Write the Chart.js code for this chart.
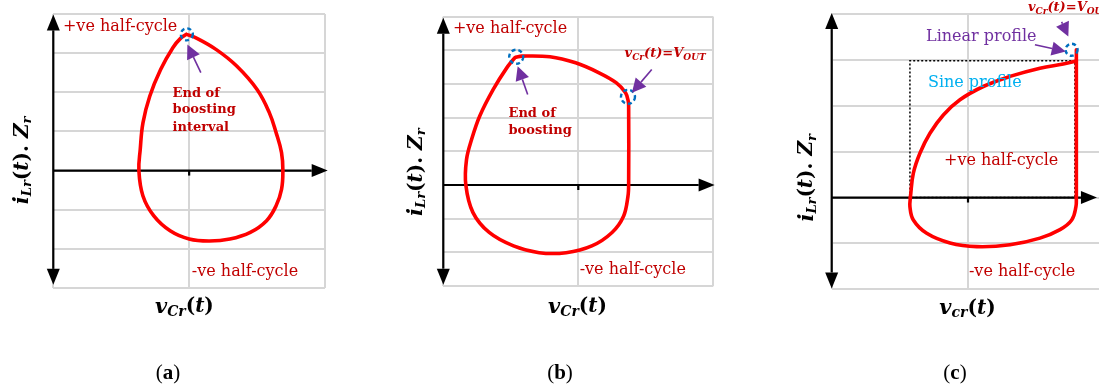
<!DOCTYPE html>
<html>
<head>
<meta charset="utf-8">
<script src="https://cdn.jsdelivr.net/npm/chart.js@4/dist/chart.umd.min.js"></script>
<style>
  html, body { margin: 0; padding: 0; background: #fff; width: 1099px; height: 387px; overflow: hidden; }
  canvas { position: absolute; top: 0; }
  .cap { position: absolute; top: 360px; font-family: "Liberation Serif", serif; font-size: 21px; color: #000; transform: translateX(-50%); }
</style>
</head>
<body>
<canvas id="panelA" width="345" height="387" style="left:0px"></canvas>
<canvas id="panelB" width="345" height="387" style="left:380px"></canvas>
<canvas id="panelC" width="350" height="387" style="left:760px"></canvas>
<div class="cap" style="left:168px">(<b>a</b>)</div>
<div class="cap" style="left:560px">(<b>b</b>)</div>
<div class="cap" style="left:955px">(<b>c</b>)</div>
<script>
// ---- state-plane data: [vCr, iLr*Zr] in normalised grid units ----
const xRange  = [0, 2];
const yRangeA = [-3, 4];
const yRangeB = [-3, 5];
const yRangeC = [-2, 4];

// (a) teardrop trajectory, clockwise from the end of the boosting interval
const trajA = [[0.98,3.48],[1.05,3.39],[1.20,3.09],[1.35,2.67],[1.50,2.07],[1.59,1.48],
  [1.64,0.97],[1.68,0.46],[1.69,0],[1.68,-0.48],[1.64,-0.90],[1.57,-1.28],[1.45,-1.58],
  [1.30,-1.75],[1.15,-1.80],[1.00,-1.75],[0.86,-1.54],[0.74,-1.16],[0.66,-0.65],[0.63,0],
  [0.64,0.54],[0.66,1.22],[0.71,1.90],[0.79,2.58],[0.88,3.14],[0.94,3.39],[0.98,3.48]];

// (b) trajectory with clamped capacitor voltage (vertical edge at VOUT)
const trajB = [[0.54,3.80],[0.58,3.83],[0.79,3.81],[0.98,3.63],[1.15,3.34],[1.28,3.04],
  [1.35,2.74],[1.37,2.49],[1.373,2.30],[1.373,0.05],[1.368,-0.33],[1.336,-0.92],[1.25,-1.41],
  [1.10,-1.81],[0.91,-2.01],[0.71,-2.01],[0.52,-1.81],[0.34,-1.41],[0.22,-0.82],[0.167,0],
  [0.172,0.76],[0.21,1.36],[0.27,2.05],[0.37,2.84],[0.47,3.48],[0.53,3.78],[0.54,3.80]];

// (c) sine-profile rise, vertical clamp at VOUT, negative half-cycle return
const sineC  = [[0.577,0],[0.599,0.53],[0.648,0.97],[0.721,1.40],[0.819,1.80],[0.941,2.13],
  [1.112,2.42],[1.308,2.64],[1.528,2.82],[1.699,2.91],[1.774,2.96],[1.795,2.98]];
const clampC = [[1.795,3.22],[1.795,0]];
const lowerC = [[1.795,0],[1.792,-0.20],[1.761,-0.49],[1.675,-0.70],[1.528,-0.885],[1.308,-1.03],
  [1.064,-1.07],[0.868,-0.99],[0.697,-0.78],[0.599,-0.49],[0.574,-0.20],[0.577,0]];
const boxC   = [[0.574,0],[0.574,2.98],[1.785,2.98],[1.785,0],[0.574,0]];

// ---- styles ----
const RED = '#ff0000', TXT_RED = '#c00000', PURPLE = '#7030a0', CYAN = '#00b0f0', BLUE = '#0070c0';
const SERIF = '"DejaVu Serif", serif';
const MATH = '"DejaVu Serif", serif';

const pts = arr => arr.map(p => ({ x: p[0], y: p[1] }));

function curve(arr, tension) {
  return { data: pts(arr), showLine: true, borderColor: RED, borderWidth: 3.6, pointRadius: 0,
           tension: tension, fill: false, borderCapStyle: 'round', borderJoinStyle: 'round', order: 1 };
}

// text run helpers
const R  = (t, size, color) => ({ t, font: `${size}px ${SERIF}`, color });
const B  = (t, size, color) => ({ t, font: `bold ${size}px ${SERIF}`, color });
const BI = (t, size, color, dy) => ({ t, font: `italic bold ${size}px ${MATH}`, color, dy: dy || 0 });

function yTitle() {
  return [BI('i', 21, '#000'), BI('Lr', 13, '#000', 5), B('(', 20, '#000'), BI('t', 20, '#000'),
          B(').', 20, '#000'), BI(' Z', 20, '#000'), BI('r', 13, '#000', 5)];
}
function xTitle(sub) {
  return [BI('v', 21, '#000'), BI(sub, 14, '#000', 5), B('(', 20, '#000'), BI('t', 20, '#000'), B(')', 20, '#000')];
}
function voutLabel() {
  return [BI('v', 13, TXT_RED), BI('Cr', 9, TXT_RED, 3), BI('(t)=V', 13, TXT_RED), BI('OUT', 9, TXT_RED, 3)];
}

function drawRuns(ctx, runs, x, y, align) {
  let total = 0;
  for (const r of runs) { ctx.font = r.font; total += ctx.measureText(r.t).width; }
  let cx = align === 'center' ? x - total / 2 : x;
  for (const r of runs) {
    ctx.font = r.font; ctx.fillStyle = r.color;
    ctx.fillText(r.t, cx, y + (r.dy || 0));
    cx += ctx.measureText(r.t).width;
  }
}

function arrowHead(ctx, x1, y1, x2, y2, len, half) {
  const a = Math.atan2(y2 - y1, x2 - x1);
  const bx = x2 - len * Math.cos(a), by = y2 - len * Math.sin(a);
  ctx.beginPath();
  ctx.moveTo(x2, y2);
  ctx.lineTo(bx + half * Math.sin(a), by - half * Math.cos(a));
  ctx.lineTo(bx - half * Math.sin(a), by + half * Math.cos(a));
  ctx.closePath(); ctx.fill();
  return [bx, by];
}

// axes with arrowheads, drawn under the trajectory
const axesPlugin = {
  id: 'stateAxes',
  beforeDatasetsDraw(chart, args, o) {
    const { ctx, scales: { x, y } } = chart;
    ctx.save();
    ctx.strokeStyle = '#000'; ctx.fillStyle = '#000'; ctx.lineWidth = 2.2;
    const x0 = x.getPixelForValue(0), yb = y.getPixelForValue(o.yTips[0]), yt = y.getPixelForValue(o.yTips[1]);
    const y0 = y.getPixelForValue(0), xt = x.getPixelForValue(o.xTip);
    const [, topB] = arrowHead(ctx, x0, yb, x0, yt, 16, 6.5);
    const [, botB] = arrowHead(ctx, x0, yt, x0, yb, 16, 6.5);
    ctx.beginPath(); ctx.moveTo(x0, topB); ctx.lineTo(x0, botB); ctx.stroke();
    const [rB] = arrowHead(ctx, x0, y0, xt, y0, 16, 6.5);
    ctx.beginPath(); ctx.moveTo(x0, y0); ctx.lineTo(rB, y0); ctx.stroke();
    const xm = x.getPixelForValue(1);
    ctx.beginPath(); ctx.moveTo(xm, y0); ctx.lineTo(xm, y0 + 5); ctx.stroke();
    ctx.restore();
  }
};

// markers, pointer arrows and labels, drawn over the trajectory
const notesPlugin = {
  id: 'stateNotes',
  afterDatasetsDraw(chart, args, o) {
    const { ctx, scales: { x, y } } = chart;
    const P = (vx, vy) => [x.getPixelForValue(vx), y.getPixelForValue(vy)];
    ctx.save();
    for (const c of o.circles) {
      const [cx, cy] = P(c[0], c[1]);
      ctx.strokeStyle = BLUE; ctx.lineWidth = 2.4; ctx.setLineDash([4, 3]);
      ctx.beginPath(); ctx.arc(cx, cy, c[2], 0, Math.PI * 2); ctx.stroke();
    }
    ctx.setLineDash([]);
    for (const a of o.pointers) {
      const [x1, y1] = P(a[0], a[1]), [x2, y2] = P(a[2], a[3]);
      ctx.fillStyle = PURPLE; ctx.strokeStyle = PURPLE; ctx.lineWidth = 1.6;
      const [bx, by] = arrowHead(ctx, x1, y1, x2, y2, 14, 7);
      ctx.beginPath(); ctx.moveTo(x1, y1); ctx.lineTo(bx, by); ctx.stroke();
    }
    for (const t of o.labels) {
      const [tx, ty] = P(t.at[0], t.at[1]);
      ctx.textBaseline = t.baseline || 'alphabetic';
      if (t.rotate) {
        ctx.save(); ctx.translate(tx, ty); ctx.rotate(-Math.PI / 2);
        drawRuns(ctx, t.runs, 0, 0, 'center');
        ctx.restore();
      } else {
        drawRuns(ctx, t.runs, tx, ty, t.align || 'left');
      }
    }
    ctx.restore();
  }
};

function makePanel(id, yr, datasets, pad, notes, axes) {
  const grid = { color: '#d6d6d6', lineWidth: 2, drawTicks: false };
  new Chart(document.getElementById(id), {
    type: 'scatter',
    data: { datasets },
    options: {
      responsive: false, animation: false, events: [],
      layout: { padding: pad, autoPadding: false },
      plugins: { legend: { display: false }, tooltip: { enabled: false },
                 stateAxes: axes, stateNotes: notes },
      scales: {
        x: { type: 'linear', min: xRange[0], max: xRange[1], ticks: { display: false, stepSize: 1 }, grid, border: { display: false } },
        y: { type: 'linear', min: yr[0], max: yr[1], ticks: { display: false, stepSize: 1 }, grid, border: { display: false } }
      }
    },
    plugins: [axesPlugin, notesPlugin]
  });
}

// (a)
makePanel('panelA', yRangeA, [curve(trajA, 0.4)],
  { left: 53.3, top: 14, right: 20, bottom: 99 },
  {
    circles: [[0.983, 3.48, 6]],
    pointers: [[1.086, 2.50, 0.987, 3.22]],
    labels: [
      { at: [0.071, 3.67], baseline: 'middle', runs: [R('+ve half-cycle', 16, TXT_RED)] },
      { at: [1.02, -2.58], baseline: 'middle', runs: [R('-ve half-cycle', 16, TXT_RED)] },
      { at: [0.878, 1.89], runs: [B('End of', 13, TXT_RED)] },
      { at: [0.878, 1.46], runs: [B('boosting', 13, TXT_RED)] },
      { at: [0.878, 1.02], runs: [B('interval', 13, TXT_RED)] },
      { at: [-0.223, 0.26], rotate: true, baseline: 'middle', runs: yTitle() },
      { at: [0.965, -3.49], align: 'center', baseline: 'middle', runs: xTitle('Cr') }
    ]
  },
  { yTips: [-2.92, 3.99], xTip: 2.02 });

// (b)
makePanel('panelB', yRangeB, [curve(trajB, 0.35)],
  { left: 63.3, top: 16.7, right: 11.7, bottom: 101 },
  {
    circles: [[0.54, 3.81, 7], [1.368, 2.62, 7]],
    pointers: [[0.625, 2.69, 0.551, 3.53], [1.544, 3.43, 1.397, 2.74]],
    labels: [
      { at: [0.071, 4.635], baseline: 'middle', runs: [R('+ve half-cycle', 16, TXT_RED)] },
      { at: [1.01, -2.52], baseline: 'middle', runs: [R('-ve half-cycle', 16, TXT_RED)] },
      { at: [0.483, 2.01], runs: [B('End of', 13, TXT_RED)] },
      { at: [0.483, 1.53], runs: [B('boosting', 13, TXT_RED)] },
      { at: [1.343, 3.79], runs: voutLabel() },
      { at: [-0.20, 0.38], rotate: true, baseline: 'middle', runs: yTitle() },
      { at: [0.994, -3.63], align: 'center', baseline: 'middle', runs: xTitle('Cr') }
    ]
  },
  { yTips: [-2.96, 4.97], xTip: 2.01 });

// (c)
const boxSet = { data: pts(boxC), showLine: true, borderColor: '#000', borderWidth: 1.5, borderDash: [2, 2],
                 pointRadius: 0, tension: 0, fill: false, order: 2 };
makePanel('panelC', yRangeC, [boxSet, curve(sineC, 0.4), curve(clampC, 0), curve(lowerC, 0.4)],
  { left: 71.7, top: 14, right: 5.7, bottom: 97.7 },
  {
    circles: [[1.76, 3.22, 6]],
    pointers: [[1.491, 3.33, 1.717, 3.18], [1.687, 3.83, 1.736, 3.51]],
    labels: [
      { at: [0.824, 0.81], baseline: 'middle', runs: [R('+ve half-cycle', 16, TXT_RED)] },
      { at: [1.007, -1.63], baseline: 'middle', runs: [R('-ve half-cycle', 16, TXT_RED)] },
      { at: [0.692, 3.51], baseline: 'middle', runs: [R('Linear profile', 16, PURPLE)] },
      { at: [0.706, 2.49], baseline: 'middle', runs: [R('Sine profile', 16, CYAN)] },
      { at: [1.44, 4.07], runs: voutLabel() },
      { at: [-0.18, 0.43], rotate: true, baseline: 'middle', runs: yTitle() },
      { at: [0.996, -2.42], align: 'center', baseline: 'middle', runs: xTitle('cr') }
    ]
  },
  { yTips: [-1.98, 4.02], xTip: 1.946 });
</script>
</body>
</html>
